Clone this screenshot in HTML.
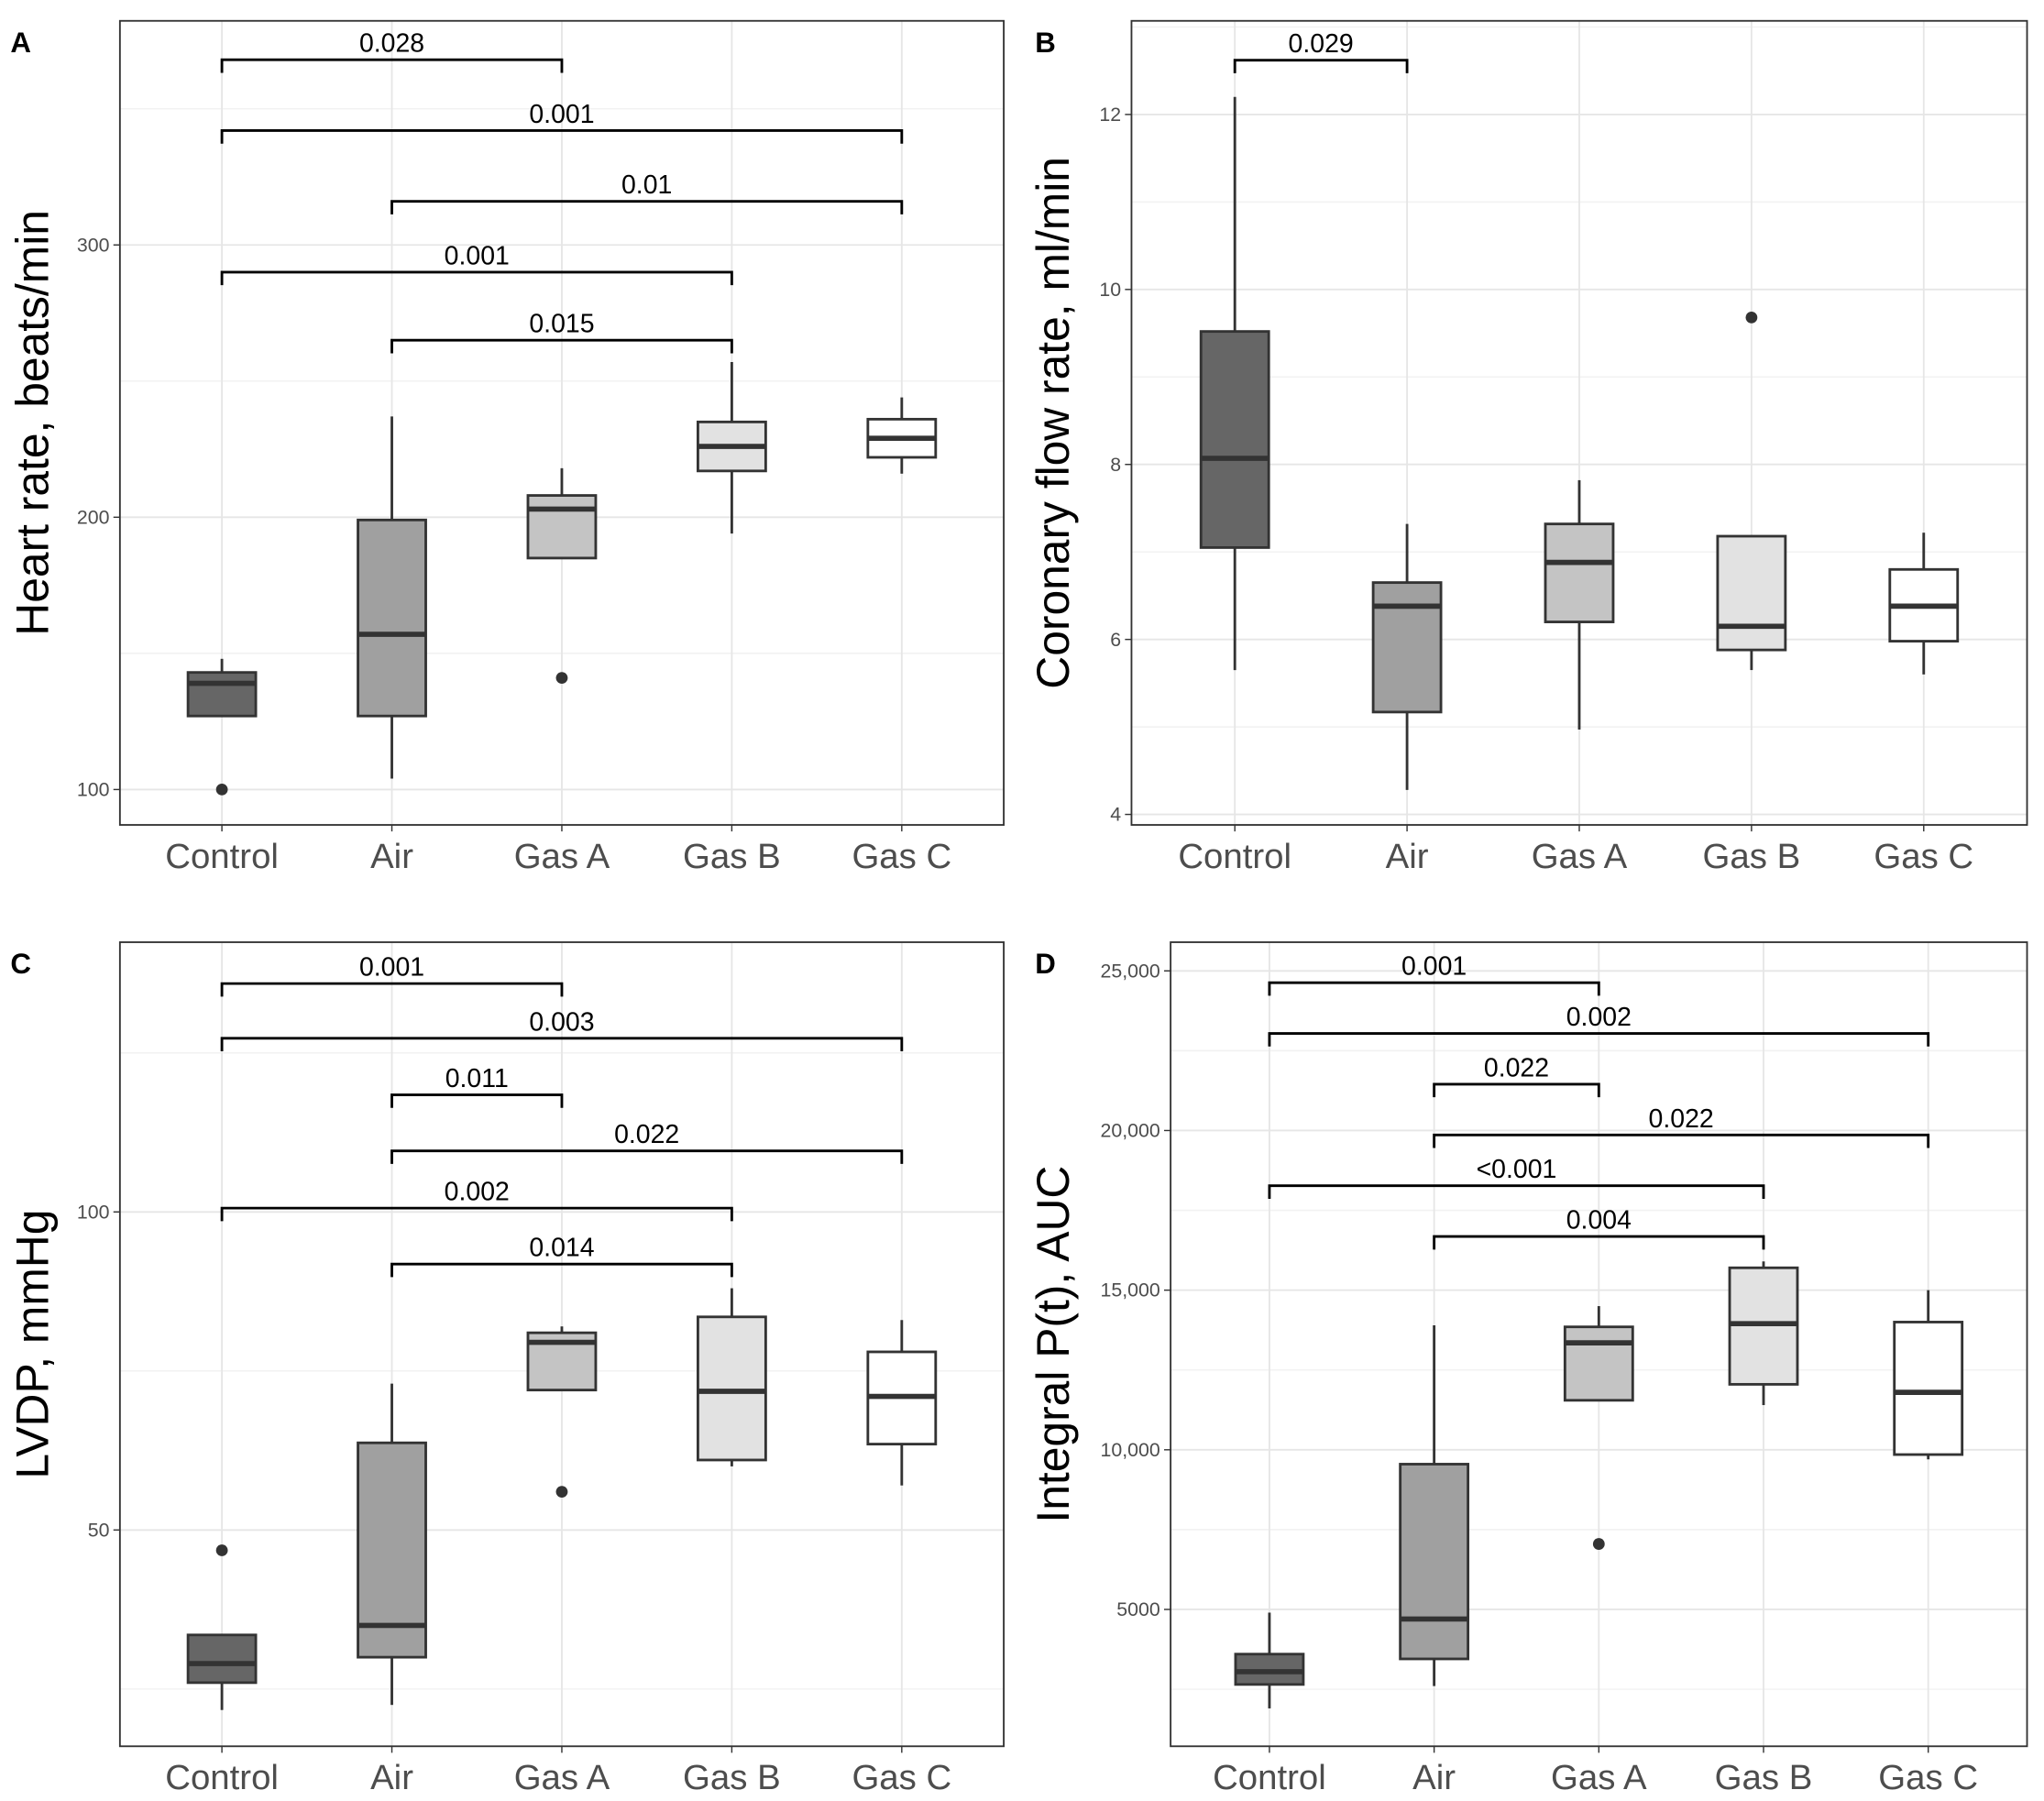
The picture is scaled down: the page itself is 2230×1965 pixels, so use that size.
<!DOCTYPE html>
<html><head><meta charset="utf-8"><style>
html,body{margin:0;padding:0;background:#fff}
svg{display:block}
text{font-family:"Liberation Sans",Arial,sans-serif}
</style></head><body>
<svg id="fig" width="2230" height="1965" viewBox="0 0 1568 1382" preserveAspectRatio="none" xmlns="http://www.w3.org/2000/svg"></svg>
<script>
const categories = ["Control","Air","Gas A","Gas B","Gas C"];
const fills = ["#666666","#a0a0a0","#c4c4c4","#e2e2e2","#ffffff"];
// Panel A: heart rate [whiskerLow, q1, median, q3, whiskerHigh]
const statsA = [[127,127,139,143,148],[104,127,157,199,237],[185,185,203,208,218],[194,217,226,235,257],[216,222,229,236,244]];
const outliersA = [[0,100],[2,141]];
const bracketsA = [[0,2,368,"0.028"],[0,4,342,"0.001"],[1,4,316,"0.01"],[0,3,290,"0.001"],[1,3,265,"0.015"]];
const ticksA = [100,200,300];
const tickLabelsA = ["100","200","300"];
// Panel B: coronary flow
const statsB = [[5.65,7.05,8.07,9.52,12.2],[4.28,5.17,6.38,6.65,7.32],[4.97,6.2,6.88,7.32,7.82],[5.65,5.88,6.15,7.18,7.18],[5.6,5.98,6.38,6.8,7.22]];
const outliersB = [[3,9.68]];
const bracketsB = [[0,1,12.62,"0.029"]];
const ticksB = [4,6,8,10,12];
const tickLabelsB = ["4","6","8","10","12"];
// Panel C: LVDP
const statsC = [[21.7,26,29,33.5,33.5],[22.5,30,35,63.7,73],[72,72,79.5,81,82],[60,61,71.8,83.5,88],[57,63.5,71,78,83]];
const outliersC = [[0,46.8],[2,56]];
const bracketsC = [[0,2,135.9,"0.001"],[0,4,127.3,"0.003"],[1,2,118.4,"0.011"],[1,4,109.6,"0.022"],[0,3,100.6,"0.002"],[1,3,91.8,"0.014"]];
const ticksC = [50,100];
const tickLabelsC = ["50","100"];
// Panel D: integral P(t)
const statsD = [[1900,2650,3050,3600,4900],[2600,3450,4700,9550,13900],[11550,11550,13350,13850,14500],[11400,12050,13950,15700,15900],[9700,9850,11800,14000,15000]];
const outliersD = [[2,7050]];
const bracketsD = [[0,2,24630,"0.001"],[0,4,23040,"0.002"],[1,2,21450,"0.022"],[1,4,19860,"0.022"],[0,3,18270,"<0.001"],[1,3,16680,"0.004"]];
const ticksD = [5000,10000,15000,20000,25000];
const tickLabelsD = ["5000","10,000","15,000","20,000","25,000"];

const svg = document.getElementById('fig');
const NS = "http://www.w3.org/2000/svg";
function mk(tag, attrs, parent){ const e=document.createElementNS(NS,tag); for(const k in attrs) e.setAttribute(k,attrs[k]); (parent||svg).appendChild(e); return e; }

function panel(cfg){
  const g = mk('g',{});
  
  
  const L=cfg.left,R=cfg.right,T=cfg.top,B=cfg.bottom;
  const y = v => B - (v - cfg.ymin)/(cfg.ymax-cfg.ymin)*(B-T);
  const x = i => L + (0.6+i)/(categories.length-1+1.2)*(R-L);
  for(let i=0;i<cfg.ticks.length;i++){
    const t=cfg.ticks[i], h=(cfg.ticks[1]-cfg.ticks[0])/2;
    [t-h,t+h].forEach(m=>{ const yy=y(m); if(yy>T&&yy<B){ const l=mk('line',{x1:L,x2:R,y1:yy,y2:yy,stroke:'#f2f2f2','stroke-width':1},g);   }});
  }
  cfg.ticks.forEach((t,i)=>{
    const yy=y(t);
    const l=mk('line',{x1:L,x2:R,y1:yy,y2:yy,stroke:'#e6e6e6','stroke-width':1.3},g);
     
    mk('line',{x1:L-5,x2:L,y1:yy,y2:yy,stroke:'#333','stroke-width':1},g);
    const tx=mk('text',{x:L-8,y:yy+5,'text-anchor':'end','font-size':15,fill:'#4d4d4d'},g); tx.textContent=cfg.tickLabels[i];
     
  });
  categories.forEach((c,i)=>{
    const xx=x(i);
    const l=mk('line',{x1:xx,x2:xx,y1:T,y2:B,stroke:'#e6e6e6','stroke-width':1.3},g);
     
    mk('line',{x1:xx,x2:xx,y1:B,y2:B+5,stroke:'#333','stroke-width':1},g);
    const tx=mk('text',{x:xx,y:B+33,'text-anchor':'middle','font-size':27,fill:'#4d4d4d'},g); tx.textContent=c;
     
  });
  cfg.stats.forEach((s,i)=>{
    const xx=x(i), hw=26;
    const bg=mk('g',{},g);
    
    
    mk('line',{x1:xx,x2:xx,y1:y(s[0]),y2:y(s[1]),stroke:'#333','stroke-width':2},bg);
    mk('line',{x1:xx,x2:xx,y1:y(s[3]),y2:y(s[4]),stroke:'#333','stroke-width':2},bg);
    mk('rect',{x:xx-hw,y:y(s[3]),width:2*hw,height:y(s[1])-y(s[3]),fill:fills[i],stroke:'#333','stroke-width':2},bg);
    mk('line',{x1:xx-hw,x2:xx+hw,y1:y(s[2]),y2:y(s[2]),stroke:'#333','stroke-width':4},bg);
  });
  cfg.outliers.forEach(o=>{
    const c=mk('circle',{cx:x(o[0]),cy:y(o[1]),r:4.5,fill:'#333'},g);
     
  });
  cfg.brackets.forEach(b=>{
    const x1=x(b[0]),x2=x(b[1]),yy=y(b[2]);
    const p=mk('path',{d:`M${x1},${yy+10}V${yy}H${x2}V${yy+10}`,fill:'none',stroke:'#000','stroke-width':2},g);
     
    const tx=mk('text',{x:(x1+x2)/2,y:yy-6,'text-anchor':'middle','font-size':20,fill:'#000'},g); tx.textContent=b[3];
     
  });
  const fr=mk('rect',{x:L,y:T,width:R-L,height:B-T,fill:'none',stroke:'#333','stroke-width':1.3},g);
   
  const yt=mk('text',{x:0,y:0,transform:`translate(${cfg.ytx},${(T+B)/2}) rotate(-90)`,'text-anchor':'middle','font-size':35,fill:'#000'},g);
  yt.textContent=cfg.ytitle;  
  const pl=mk('text',{x:cfg.lx,y:T+24,'font-size':22,'font-weight':'bold',fill:'#000'},g);
  pl.textContent=cfg.id;  
}
panel({id:'A',left:92,right:770,top:16,bottom:633,ymin:87,ymax:382.3,stats:statsA,outliers:outliersA,brackets:bracketsA,ticks:ticksA,tickLabels:tickLabelsA,ytitle:'Heart rate, beats/min',ytx:37,lx:8});
panel({id:'B',left:868,right:1555,top:16,bottom:633,ymin:3.88,ymax:13.07,stats:statsB,outliers:outliersB,brackets:bracketsB,ticks:ticksB,tickLabels:tickLabelsB,ytitle:'Coronary flow rate, ml/min',ytx:820,lx:794});
panel({id:'C',left:92,right:770,top:723,bottom:1340,ymin:16,ymax:142.4,stats:statsC,outliers:outliersC,brackets:bracketsC,ticks:ticksC,tickLabels:tickLabelsC,ytitle:'LVDP, mmHg',ytx:37,lx:8});
panel({id:'D',left:898,right:1555,top:723,bottom:1340,ymin:714,ymax:25898,stats:statsD,outliers:outliersD,brackets:bracketsD,ticks:ticksD,tickLabels:tickLabelsD,ytitle:'Integral P(t), AUC',ytx:820,lx:794});
</script>
</body></html>
